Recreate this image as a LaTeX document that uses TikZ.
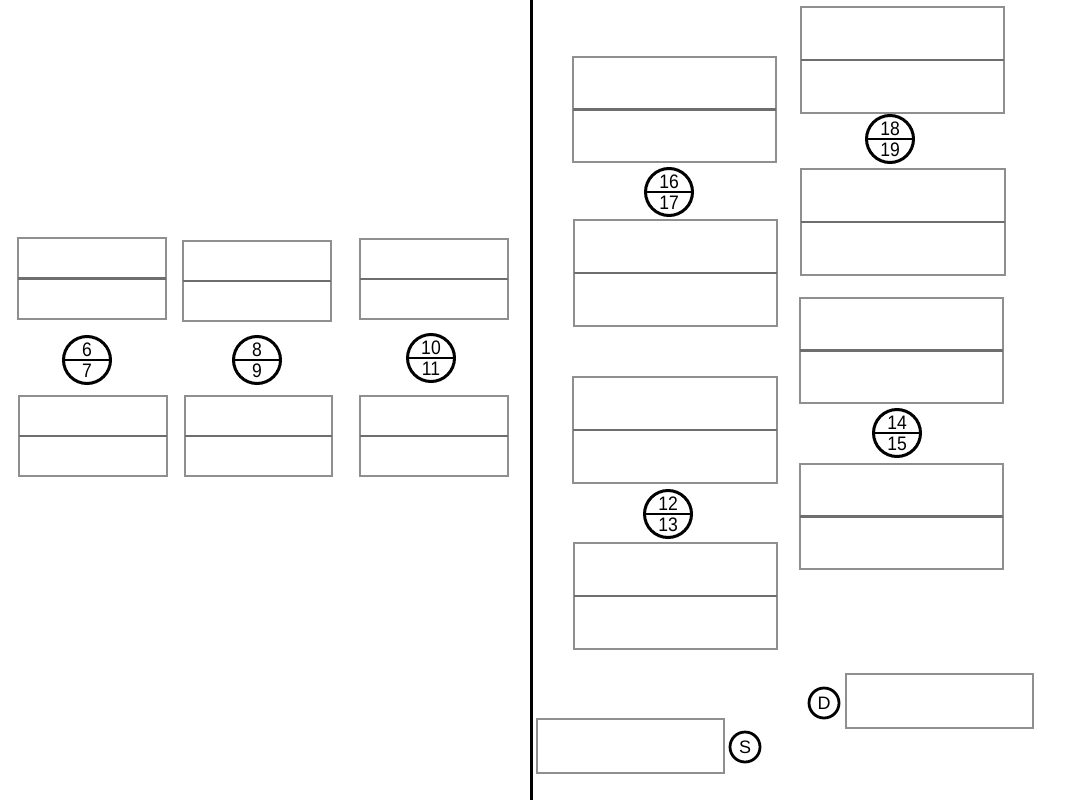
\documentclass[tikz,border=0pt]{standalone}
\usepackage{fontspec}
\setmainfont{Liberation Sans}
\definecolor{boxgray}{HTML}{8F8F8F}
\definecolor{divgray}{HTML}{6E6E6E}
\newcommand\cellbox[6][1]{%
  \node[cell, minimum width={#5-#3}, minimum height={#6-#4}] (#2) at ({(#3+#5)/2},{(#4+#6)/2}) {};
  \ifnum#1=1 \draw[divider] (#2.west) -- (#2.east);\fi}
\newcommand\fracmark[4]{%
  \node[ring] (#1) at (#2,#3) {};
  \draw[ringline] (#1.west) -- (#1.east);
  \node[numtxt] (#1-t) at ([yshift=10.5pt]#1.center) {#4};}
\newcommand\fraclow[2]{\node[numtxt] (#1-b) at ([yshift=-11pt]#1.center) {#2};}
\begin{document}
\begin{tikzpicture}[x=1pt,y=-1pt,
  cell/.style={draw=boxgray, line width=1.6pt, rectangle, inner sep=0pt, outer sep=0pt},
  divider/.style={draw=divgray, line width=2.2pt},
  ring/.style={draw=black, line width=3pt, circle, minimum size=47pt, inner sep=0pt, outer sep=0pt},
  ringline/.style={draw=black, line width=2.4pt},
  numtxt/.style={font=\fontsize{19.5}{19.5}\selectfont, inner sep=0pt, xscale=0.9},
  smallring/.style={draw=black, line width=2.8pt, circle, minimum size=30pt, inner sep=0pt, font=\fontsize{18}{18}\selectfont},
  sepline/.style={draw=black, line width=3pt}]
\useasboundingbox[fill=white] (0,0) rectangle (1067,800);
% separator
\coordinate (sepTop) at (531,0);
\coordinate (sepBot) at (531,800);
\draw[sepline] (sepTop) -- (sepBot);
% left boxes
\cellbox{A}{18}{238}{166}{319}
\cellbox{B}{183}{241}{331}{321}
\cellbox{C}{360}{239}{508}{319}
\cellbox{D}{19}{396}{167}{476}
\cellbox{E}{185}{396}{332}{476}
\cellbox{F}{360}{396}{508}{476}
% right boxes
\cellbox{G}{573}{57}{776}{162}
\cellbox{H}{574}{220}{777}{326}
\cellbox{I}{801}{7}{1004}{113}
\cellbox{J}{801}{169}{1005}{275}
\cellbox{K}{800}{298}{1003}{403}
\cellbox{L}{573}{377}{777}{483}
\cellbox{M}{574}{543}{777}{649}
\cellbox{N}{800}{464}{1003}{569}
\cellbox[0]{Dbox}{846}{674}{1033}{728}
\cellbox[0]{Sbox}{537}{719}{724}{773}
% fraction markers
\fracmark{c67}{87}{360}{6}\fraclow{c67}{7}
\fracmark{c89}{257}{360}{8}\fraclow{c89}{9}
\fracmark{c1011}{431}{358}{10}\fraclow{c1011}{11}
\fracmark{c1617}{669}{192}{16}\fraclow{c1617}{17}
\fracmark{c1819}{890}{139}{18}\fraclow{c1819}{19}
\fracmark{c1213}{668}{514}{12}\fraclow{c1213}{13}
\fracmark{c1415}{897}{433}{14}\fraclow{c1415}{15}
% letter markers
\node[smallring] (mD) at (824,703) {D};
\node[smallring] (mS) at (745,747) {S};
\end{tikzpicture}
\end{document}
